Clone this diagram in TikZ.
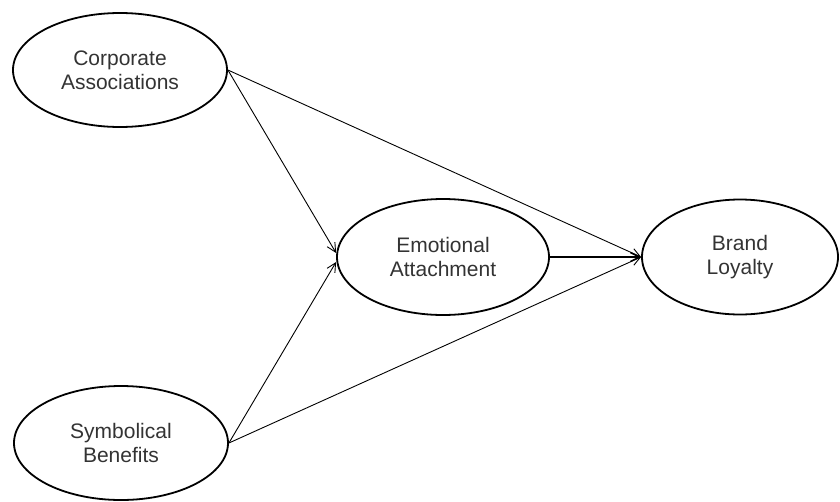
\documentclass[tikz,border=0pt]{standalone}
\usepackage{fontspec}
\setmainfont{Liberation Sans}
\usetikzlibrary{shapes.geometric,arrows.meta,calc}
\begin{document}
\begin{tikzpicture}[x=1pt,y=-1pt,
  latent/.style={ellipse,draw=black,line width=1.8pt,minimum width=214pt,minimum height=114pt,
    inner sep=0pt,align=center,font=\fontsize{21}{24}\selectfont,text=black!80},
  pathline/.style={line width=0.9pt,-{Straight Barb[length=9pt,width=9pt]}}]
\useasboundingbox (0,0) rectangle (840,501);
\node[latent] (corp) at (120,70) {Corporate\\Associations};
\node[latent] (symb) at (121,443) {Symbolical\\Benefits};
\node[latent,minimum width=212pt,minimum height=116pt] (emo) at (443,257) {Emotional\\Attachment};
\node[latent,minimum width=196pt,minimum height=115pt] (brand) at (740,257) {Brand\\Loyalty};
\draw[pathline] (corp.east) -- ($(emo.west)+(0,-4)$);
\draw[pathline] (symb.east) -- ($(emo.west)+(0,5)$);
\draw[pathline] (corp.east) -- (brand.west);
\draw[pathline] (symb.east) -- (brand.west);
\draw[pathline,line width=1.5pt] (emo.east) -- (brand.west);
\end{tikzpicture}
\end{document}
